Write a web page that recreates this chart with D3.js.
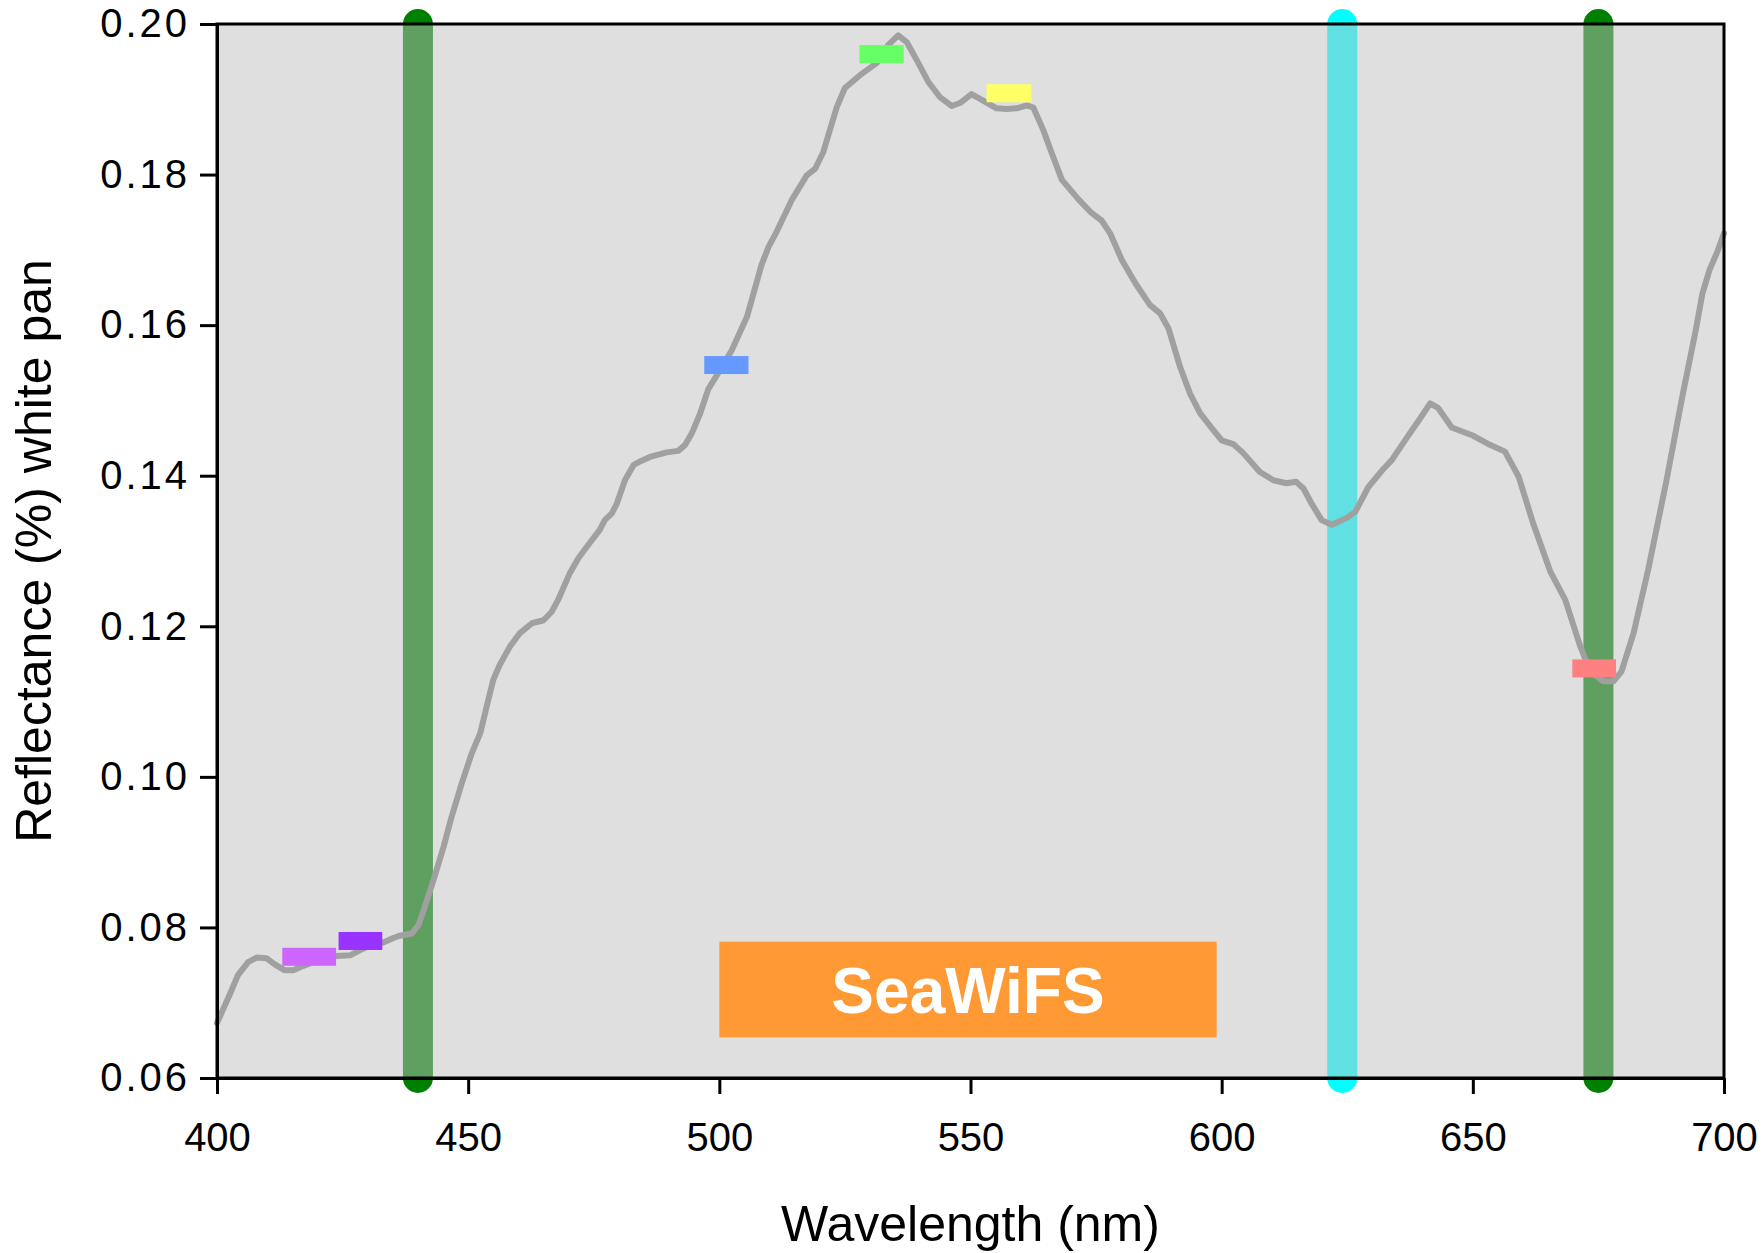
<!DOCTYPE html>
<html>
<head>
<meta charset="utf-8">
<script src="https://cdn.jsdelivr.net/npm/d3@7"></script>
<style>
  html, body { margin: 0; padding: 0; background: #ffffff; }
  svg { display: block; }
  text { font-family: "Liberation Sans", Arial, Helvetica, sans-serif; }
</style>
</head>
<body>
<svg id="chart" width="1762" height="1253"></svg>
<script>
// ---------------- DATA ----------------
const wavelength = [
  400, 402.6, 404.2, 406.2, 407.9, 409.9, 411.5, 413.5, 415.2, 417.2, 419.2, 421.5, 423.8, 426.5,
  428.5, 430.8, 433.1, 435.1, 436.4, 438.8, 440.1, 441.4, 443.1, 445.1, 446.7, 448.7, 450.7, 452.4,
  454.0, 455.0, 456.3, 458.3, 460.3, 462.7, 465.0, 466.6, 467.9, 470.2, 472.0, 474.0, 476.2, 477.2,
  478.6, 479.6, 481.2, 482.9, 484.2, 486.2, 489.5, 491.8, 493.2, 494.5, 496.2, 497.8, 500.1, 502.5,
  505.5, 508.4, 509.8, 511.4, 514.4, 517.4, 519.1, 520.7, 523.4, 525.0, 528.0, 531.3, 533.6, 535.6,
  537.3, 539.3, 541.6, 543.9, 546.3, 547.9, 550.2, 552.6, 555.2, 557.2, 559.2, 561.2, 562.5, 564.5,
  566.2, 568.2, 571.5, 574.1, 576.1, 577.8, 580.1, 582.8, 585.7, 587.7, 589.4, 591.7, 593.7, 595.7,
  598.3, 600.0, 602.3, 604.3, 607.6, 610.3, 612.9, 614.8, 616.3, 617.9, 619.9, 621.9, 624.9, 626.6,
  629.2, 632.2, 633.9, 636.8, 639.5, 641.5, 643.1, 645.8, 650.1, 653.4, 656.4, 659.1, 662.0, 665.4,
  668.4, 671.4, 673.4, 676.0, 678.0, 679.6, 682.0, 684.9, 688.5, 691.7, 694.4, 695.7, 697.1, 698.7,
  700.0
];
const reflectance = [
  0.0673, 0.0712, 0.0737, 0.0754, 0.0760, 0.0759, 0.0751, 0.0743, 0.0743, 0.0749, 0.0754, 0.0759, 0.0762, 0.0763,
  0.0770, 0.0777, 0.0780, 0.0786, 0.0789, 0.0792, 0.0803, 0.0828, 0.0863, 0.0907, 0.0947, 0.0991, 0.1031, 0.1058,
  0.1102, 0.1129, 0.1149, 0.1173, 0.1191, 0.1204, 0.1208, 0.1219, 0.1235, 0.1270, 0.1291, 0.1309, 0.1328, 0.1341,
  0.1350, 0.1363, 0.1394, 0.1414, 0.1419, 0.1425, 0.1431, 0.1433, 0.1441, 0.1456, 0.1483, 0.1515, 0.1540, 0.1567,
  0.1611, 0.1680, 0.1704, 0.1724, 0.1766, 0.1799, 0.1808, 0.1830, 0.1890, 0.1915, 0.1932, 0.1948, 0.1972, 0.1985,
  0.1976, 0.1952, 0.1923, 0.1903, 0.1891, 0.1895, 0.1907, 0.1898, 0.1888, 0.1887, 0.1888, 0.1892, 0.1889, 0.1859,
  0.1828, 0.1793, 0.1767, 0.1749, 0.1739, 0.1722, 0.1687, 0.1656, 0.1627, 0.1616, 0.1596, 0.1545, 0.1509, 0.1483,
  0.1461, 0.1447, 0.1442, 0.1430, 0.1405, 0.1394, 0.1390, 0.1392, 0.1383, 0.1363, 0.1341, 0.1335, 0.1344, 0.1352,
  0.1385, 0.1409, 0.1421, 0.1450, 0.1476, 0.1496, 0.1490, 0.1464, 0.1453, 0.1441, 0.1432, 0.1399, 0.1337, 0.1273,
  0.1235, 0.1173, 0.1140, 0.1127, 0.1127, 0.1140, 0.1191, 0.1275, 0.1392, 0.1505, 0.1594, 0.1642, 0.1673, 0.1698,
  0.1722
];

// SeaWiFS band markers
const bandStart = [413.0, 424.2, 497.0, 527.9, 553.2, 669.8];
const bandEnd   = [423.7, 432.9, 505.8, 536.7, 562.1, 678.5];
const bandValue = [0.0761, 0.0782, 0.1547, 0.1960, 0.1908, 0.1144];
const bandColor = ["#CC66FF", "#9933FF", "#6699FF", "#66FF66", "#FFFF66", "#FF8080"];

// vertical wavelength lines
const lineWavelength = [440, 624, 675];
const lineColor      = ["#5F9F5F", "#60E0E0", "#5F9F5F"];
const lineCapColor   = ["#008000", "#00FFFF", "#008000"];

// SeaWiFS label box
const boxLabel = "SeaWiFS";
const boxX = [500, 599];
const boxY = [0.0654, 0.0781];

const xTicks = [400, 450, 500, 550, 600, 650, 700];
const yTicks = [0.06, 0.08, 0.10, 0.12, 0.14, 0.16, 0.18, 0.20];
const xTitle = "Wavelength (nm)";
const yTitle = "Reflectance (%) white pan";

// ---------------- LAYOUT ----------------
const W = 1762, H = 1253;
const margin = { left: 217, top: 24, right: 38, bottom: 175 };
const pw = W - margin.left - margin.right;
const ph = H - margin.top - margin.bottom;

const svg = d3.select("#chart");
const x = d3.scaleLinear().domain([400, 700]).range([0, pw]);
const y = d3.scaleLinear().domain([0.06, 0.20]).range([ph, 0]);

const g = svg.append("g").attr("transform", `translate(${margin.left},${margin.top})`);

const bandW = 30;

// caps of vertical lines (full colour, outside plot halves remain visible)
lineWavelength.forEach((wl, i) => {
  [0, ph].forEach(cy => {
    g.append("circle").attr("cx", x(wl)).attr("cy", cy).attr("r", bandW / 2)
      .attr("fill", lineCapColor[i]);
  });
});

// plot background
g.append("rect").attr("x", 0).attr("y", 0).attr("width", pw).attr("height", ph)
  .attr("fill", "#DFDFDF");

// vertical bands
g.selectAll("rect.vband").data(lineWavelength).enter().append("rect")
  .attr("class", "vband")
  .attr("x", d => x(d) - bandW / 2).attr("y", 0)
  .attr("width", bandW).attr("height", ph)
  .attr("fill", (d, i) => lineColor[i]);

// SeaWiFS box
g.append("rect")
  .attr("x", x(boxX[0])).attr("y", y(boxY[1]))
  .attr("width", x(boxX[1]) - x(boxX[0])).attr("height", y(boxY[0]) - y(boxY[1]))
  .attr("fill", "#FF9933");
g.append("text")
  .attr("x", x((boxX[0] + boxX[1]) / 2)).attr("y", y(boxY[0]) - 24)
  .attr("text-anchor", "middle").attr("fill", "#ffffff")
  .attr("font-weight", "bold").attr("font-size", 64)
  .text(boxLabel);

// reflectance curve
const pts = wavelength.map((w, i) => [w, reflectance[i]]);
g.append("path").datum(pts)
  .attr("d", d3.line().x(d => x(d[0])).y(d => y(d[1])))
  .attr("fill", "none").attr("stroke", "#A0A0A0")
  .attr("stroke-width", 6).attr("stroke-linejoin", "round").attr("stroke-linecap", "round");

// band markers
const markH = 18;
g.selectAll("rect.mark").data(bandValue).enter().append("rect")
  .attr("class", "mark")
  .attr("x", (d, i) => x(bandStart[i]))
  .attr("y", d => y(d) - markH / 2)
  .attr("width", (d, i) => x(bandEnd[i]) - x(bandStart[i]))
  .attr("height", markH)
  .attr("fill", (d, i) => bandColor[i]);

// border
g.append("rect").attr("x", 0).attr("y", 0).attr("width", pw).attr("height", ph)
  .attr("fill", "none").attr("stroke", "#000").attr("stroke-width", 3);

// axes
const yAxis = g.append("g")
  .call(d3.axisLeft(y).tickValues(yTicks).tickFormat(d3.format(".2f"))
    .tickSize(17).tickPadding(10).tickSizeOuter(0));
const xAxis = g.append("g").attr("transform", `translate(0,${ph})`)
  .call(d3.axisBottom(x).tickValues(xTicks).tickFormat(d3.format("d"))
    .tickSize(16).tickPadding(29).tickSizeOuter(0));

[yAxis, xAxis].forEach(a => {
  a.select(".domain").attr("stroke", "#000").attr("stroke-width", 3);
  a.selectAll(".tick line").attr("stroke", "#000").attr("stroke-width", 3);
  a.selectAll(".tick text").attr("fill", "#000")
    .style("font-family", "'Liberation Sans', Arial, sans-serif").style("font-size", "40px");
});
yAxis.selectAll(".tick text").style("letter-spacing", "3px");

// titles
svg.append("text")
  .attr("x", margin.left + x(550)).attr("y", 1241)
  .attr("text-anchor", "middle").attr("font-size", 50).attr("fill", "#000")
  .text(xTitle);
svg.append("text")
  .attr("transform", `translate(51,${margin.top + ph / 2}) rotate(-90)`)
  .attr("text-anchor", "middle").attr("font-size", 50).attr("fill", "#000")
  .text(yTitle);
</script>
</body>
</html>
